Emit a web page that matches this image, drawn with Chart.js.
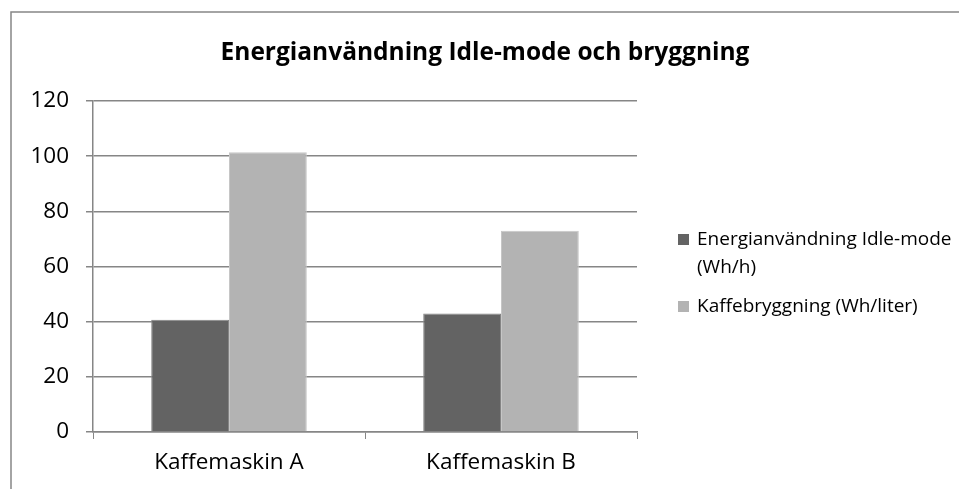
<!DOCTYPE html>
<html>
<head>
<meta charset="utf-8">
<script src="https://cdn.jsdelivr.net/npm/chart.js@4/dist/chart.umd.min.js"></script>
<style>
  html, body { margin: 0; padding: 0; background: #ffffff; }
  #wrap { position: relative; width: 959px; height: 489px; }
</style>
</head>
<body>
<div id="wrap"><canvas id="c" width="959" height="489"></canvas></div>
<script>
const chartTitle = "Energianvändning Idle-mode och bryggning";
const categories = ["Kaffemaskin A", "Kaffemaskin B"];
const seriesNames = ["Energianvändning Idle-mode (Wh/h)", "Kaffebryggning (Wh/liter)"];
const legendLines = [["Energianvändning Idle-mode", "(Wh/h)"], ["Kaffebryggning (Wh/liter)"]];
const idleValues = [40.7, 43.0];
const brewValues = [101.4, 73.0];
const yTicks = [0, 20, 40, 60, 80, 100, 120];

const FONT = "'Open Sans', 'Noto Sans', sans-serif";
const GRID = "#868686";

const framePlugin = {
  id: 'frameAndLegend',
  beforeDraw(chart) {
    const ctx = chart.ctx;
    ctx.save();
    ctx.fillStyle = '#ffffff';
    ctx.fillRect(0, 0, chart.width, chart.height);
    ctx.strokeStyle = '#878787';
    ctx.lineWidth = 1.5;
    ctx.beginPath();
    ctx.moveTo(11, 489);
    ctx.lineTo(11, 12);
    ctx.lineTo(959, 12);
    ctx.stroke();
    ctx.fillStyle = '#000000';
    ctx.font = "bold 24.5px " + FONT;
    ctx.textAlign = 'center';
    ctx.textBaseline = 'middle';
    ctx.fillText(chartTitle, 485, 53);
    ctx.restore();
  },
  afterDraw(chart) {
    const ctx = chart.ctx;
    ctx.save();
    ctx.font = "19px " + FONT;
    ctx.textAlign = 'left';
    ctx.textBaseline = 'middle';
    const starts = [240, 307];
    chart.data.datasets.forEach((ds, i) => {
      const y0 = starts[i];
      ctx.fillStyle = ds.backgroundColor;
      ctx.fillRect(678, y0 - 6, 11, 11);
      ctx.fillStyle = '#000000';
      legendLines[i].forEach((line, j) => {
        ctx.fillText(line, 697, y0 + j * 28);
      });
    });
    ctx.restore();
  }
};

new Chart(document.getElementById('c'), {
  type: 'bar',
  data: {
    labels: categories,
    datasets: [
      { label: seriesNames[0], data: idleValues, backgroundColor: '#636363', borderColor: '#858585', borderWidth: 1 },
      { label: seriesNames[1], data: brewValues, backgroundColor: '#b3b3b3', borderColor: '#c6c6c6', borderWidth: 1 }
    ]
  },
  options: {
    responsive: false,
    animation: false,
    devicePixelRatio: 1,
    datasets: { bar: { categoryPercentage: 0.572, barPercentage: 1.0 } },
    layout: { padding: { left: 0, right: 322, top: 101, bottom: 0 } },
    plugins: {
      legend: { display: false },
      title: { display: false },
      tooltip: { enabled: false }
    },
    scales: {
      x: {
        grid: { offset: true, drawOnChartArea: false, drawTicks: true, tickLength: 7, color: GRID, lineWidth: 1 },
        border: { display: true, color: GRID, width: 1.5 },
        ticks: { color: '#000000', font: { family: FONT, size: 22.5 }, padding: 10 },
        afterFit(s) { s.height = 57; }
      },
      y: {
        min: 0, max: 120,
        afterBuildTicks(s) { s.ticks = yTicks.map(v => ({ value: v })); },
        grid: { drawTicks: true, tickLength: 7, color: GRID, lineWidth: 1.5 },
        border: { display: true, color: GRID, width: 1.5 },
        ticks: { color: '#000000', font: { family: FONT, size: 22.5 }, padding: 17 },
        afterFit(s) { s.width = 93; }
      }
    }
  },
  plugins: [framePlugin]
});
</script>
</body>
</html>
